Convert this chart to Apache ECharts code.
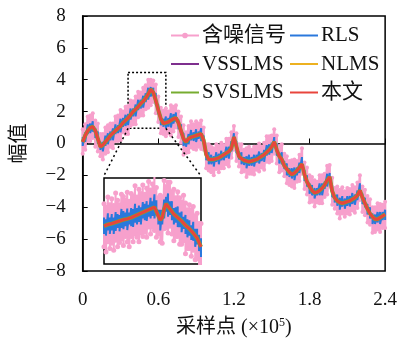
<!DOCTYPE html>
<html><head><meta charset="utf-8">
<script src="https://cdn.jsdelivr.net/npm/echarts@6/dist/echarts.min.js"></script>
<style>html,body{margin:0;padding:0;background:#fff}#c{width:400px;height:343px}</style>
</head><body><div id="c"></div>
<script>
// ---- data ----
const xStep = 0.02; // sample spacing (×10^5)
const xTicks = [0, 0.6, 1.2, 1.8, 2.4];
const yTicks = [-8, -6, -4, -2, 0, 2, 4, 6, 8];
const seriesNames = ['含噪信号', 'RLS', 'VSSLMS', 'NLMS', 'SVSLMS', '本文'];
// clean / filtered signal (本文)
const signal = [0.1,0.5,0.8,1.0,1.05,0.8,0.3,-0.2,-0.1,0.1,
0.3,0.5,0.65,0.8,0.95,1.1,1.3,1.45,1.6,1.8,
2.0,2.15,2.3,2.5,2.65,2.85,3.1,3.4,3.2,2.7,
2.1,1.55,1.25,1.3,1.35,1.45,1.55,1.6,1.3,0.8,
0.3,0.1,0.3,0.4,0.45,0.5,0.55,0.6,0.2,-0.7,
-1.0,-1.0,-1.0,-0.95,-0.9,-0.8,-0.7,-0.6,-0.5,-0.3,
0.4,-0.2,-0.8,-0.95,-1.05,-1.1,-1.15,-1.1,-1.05,-1.0,
-0.9,-0.8,-0.7,-0.55,-0.4,-0.2,0.1,-0.4,-0.8,-1.0,
-1.4,-1.6,-1.8,-1.95,-1.85,-1.7,-1.5,-1.3,-1.95,-2.4,
-2.7,-2.95,-3.1,-3.05,-2.95,-2.8,-2.6,-2.3,-2.1,-3.0,
-3.4,-3.6,-3.7,-3.75,-3.7,-3.65,-3.6,-3.5,-3.4,-3.25,
-2.95,-3.4,-3.75,-4.1,-4.4,-4.6,-4.75,-4.75,-4.65,-4.55,
-4.45];
// noisy signal spread above / below the clean signal
const noiseUp = [0.8,0.7,0.9,0.75,0.85,0.65,0.95,0.8,0.7,0.9,
0.85,0.75,0.6,0.9,0.8,1.0,0.7,0.85,0.75,0.9,
0.65,0.8,0.95,0.7,0.85,0.8,0.9,0.6,0.75,1.0,
0.85,0.7,0.8,0.9,0.65,0.95,0.75,0.8,0.7,0.9,
0.85,0.6,0.8,1.0,0.75,0.9,0.7,0.85,0.8,0.65,
0.95,0.8,0.7,0.9,0.75,0.85,0.6,0.9,0.8,1.0,
0.7,0.85,0.75,0.9,0.65,0.8,0.95,0.7,0.85,0.8,
0.9,0.6,0.75,1.0,0.85,0.7,0.8,0.9,0.65,0.95,
0.75,0.8,0.7,0.9,0.85,0.6,0.8,1.0,0.75,0.9,
0.7,0.85,0.8,0.65,0.95,0.8,0.7,0.9,0.75,0.85,
0.6,0.9,0.8,1.0,0.7,0.85,0.75,0.9,0.65,0.8,
0.95,0.7,0.85,0.8,0.9,0.6,0.75,1.0,0.85,0.7,
0.8];
const noiseDn = [-0.75,-0.9,-0.65,-0.85,-0.7,-1.0,-0.8,-0.6,-0.9,-0.75,
-0.85,-0.7,-0.95,-0.65,-0.8,-0.9,-0.6,-0.85,-1.0,-0.7,
-0.8,-0.95,-0.65,-0.75,-0.9,-0.7,-0.85,-1.0,-0.6,-0.8,
-0.75,-0.9,-0.65,-0.85,-0.7,-0.95,-0.8,-0.6,-0.9,-0.75,
-1.0,-0.7,-0.85,-0.65,-0.8,-0.9,-0.75,-0.95,-0.6,-0.85,
-0.7,-0.8,-1.0,-0.65,-0.9,-0.75,-0.85,-0.7,-0.95,-0.6,
-0.8,-0.9,-0.65,-0.85,-0.7,-1.0,-0.75,-0.8,-0.9,-0.65,
-0.85,-0.7,-0.95,-0.6,-0.8,-0.9,-0.75,-0.85,-1.0,-0.7,
-0.65,-0.9,-0.8,-0.75,-0.95,-0.7,-0.85,-0.6,-0.9,-0.8,
-1.0,-0.7,-0.85,-0.65,-0.8,-0.95,-0.75,-0.9,-0.6,-0.85,
-0.7,-0.8,-1.0,-0.65,-0.9,-0.75,-0.85,-0.7,-0.95,-0.8,
-0.6,-0.9,-0.75,-0.85,-0.7,-1.0,-0.8,-0.65,-0.9,-0.75,
-0.85];
// RLS output spread around the clean signal
const rlsUp = [0.3,0.2,0.4,0.25,0.35,0.15,0.45,0.3,0.2,0.4,
0.35,0.25,0.3,0.4,0.2,0.45,0.3,0.35,0.25,0.4,
0.2,0.3,0.45,0.25,0.35,0.3,0.4,0.15,0.3,0.45,
0.35,0.2,0.3,0.4,0.25,0.45,0.3,0.35,0.2,0.4,
0.35,0.15,0.3,0.45,0.25,0.4,0.2,0.35,0.3,0.25,
0.45,0.3,0.2,0.4,0.25,0.35,0.15,0.4,0.3,0.45,
0.25,0.35,0.3,0.4,0.2,0.3,0.45,0.25,0.35,0.3,
0.4,0.2,0.3,0.45,0.35,0.25,0.3,0.4,0.2,0.45,
0.3,0.35,0.25,0.4,0.35,0.2,0.3,0.45,0.25,0.4,
0.2,0.35,0.3,0.25,0.45,0.3,0.2,0.4,0.25,0.35,
0.15,0.4,0.3,0.45,0.25,0.35,0.3,0.4,0.2,0.3,
0.45,0.25,0.35,0.3,0.4,0.2,0.3,0.45,0.35,0.25,
0.3];
const rlsDn = [-0.25,-0.4,-0.2,-0.35,-0.3,-0.45,-0.3,-0.2,-0.4,-0.25,
-0.35,-0.3,-0.45,-0.2,-0.3,-0.4,-0.25,-0.35,-0.45,-0.3,
-0.3,-0.45,-0.2,-0.3,-0.4,-0.25,-0.35,-0.45,-0.2,-0.3,
-0.25,-0.4,-0.2,-0.35,-0.3,-0.45,-0.3,-0.2,-0.4,-0.25,
-0.45,-0.3,-0.35,-0.2,-0.3,-0.4,-0.25,-0.45,-0.2,-0.35,
-0.3,-0.3,-0.45,-0.2,-0.4,-0.25,-0.35,-0.3,-0.45,-0.2,
-0.3,-0.4,-0.2,-0.35,-0.3,-0.45,-0.25,-0.3,-0.4,-0.2,
-0.35,-0.3,-0.45,-0.2,-0.3,-0.4,-0.25,-0.35,-0.45,-0.3,
-0.2,-0.4,-0.3,-0.25,-0.45,-0.3,-0.35,-0.2,-0.4,-0.3,
-0.45,-0.3,-0.35,-0.2,-0.3,-0.45,-0.25,-0.4,-0.2,-0.35,
-0.3,-0.3,-0.45,-0.2,-0.4,-0.25,-0.35,-0.3,-0.45,-0.3,
-0.2,-0.4,-0.25,-0.35,-0.3,-0.45,-0.3,-0.2,-0.4,-0.25,
-0.35];
// zoom box (main-axis data coordinates) and inset box corners
const zoomBox = {x0: 0.36, x1: 0.66, y0: 0.95, y1: 4.45};
const insetTop = {x0: 0.169, x1: 0.937, y: -2.02};
// inset (magnified) data, inset axis 0..100 × 0..10
const insetStep = 2;
const insetSignal = [4.4,4.5,4.6,4.6,4.7,4.8,4.85,4.9,5.0,5.1,
5.15,5.2,5.25,5.3,5.4,5.5,5.6,5.7,5.8,5.9,
6.0,6.1,6.2,6.3,6.4,6.5,6.6,6.4,5.6,5.1,
5.4,6.4,7.0,6.8,6.4,6.1,5.8,5.6,5.4,5.2,
5.0,4.8,4.5,4.3,4.1,3.9,3.6,3.3,3.0,2.5,
2.0];
const insetNoiseUp = [2.6,2.1,3.2,2.3,2.9,2.0,3.4,2.5,1.9,3.0,
2.7,2.2,3.1,2.0,2.8,2.4,3.5,2.1,2.9,2.3,
3.2,2.0,2.6,3.3,2.2,2.8,3.6,2.5,2.1,2.9,
2.4,3.3,2.0,2.7,3.1,2.3,2.9,2.1,3.0,2.5,
2.2,3.2,2.6,2.0,2.8,2.4,3.1,2.3,2.9,2.2,
2.7];
const insetNoiseDn = [-2.4,-3.1,-2.0,-2.8,-2.3,-3.2,-2.1,-2.9,-2.5,-2.2,
-3.0,-2.0,-2.7,-3.3,-2.2,-2.9,-2.1,-2.6,-3.2,-2.3,
-2.8,-2.4,-3.1,-2.0,-2.9,-2.2,-2.7,-3.3,-2.1,-2.5,
-3.0,-2.3,-2.8,-3.2,-2.0,-2.6,-3.1,-2.4,-2.2,-2.9,
-2.7,-2.1,-3.3,-2.5,-2.3,-3.0,-2.0,-2.8,-2.4,-3.1,
-2.6];
const insetRlsUp = [1.0,0.7,1.3,0.8,1.1,0.6,1.2,0.9,0.7,1.3,
1.0,0.8,1.2,0.7,1.1,0.9,1.4,0.8,1.0,0.7,
1.2,0.9,1.1,0.6,1.3,0.8,1.5,1.0,0.7,1.2,
0.9,1.1,0.8,1.4,0.9,1.2,0.7,1.0,1.3,0.8,
1.1,0.7,1.2,0.9,1.0,0.6,1.3,0.8,1.1,0.9,
1.0];
const insetRlsDn = [-0.9,-1.2,-0.7,-1.1,-0.8,-1.3,-1.0,-0.7,-1.2,-0.9,
-1.1,-0.8,-1.3,-0.7,-1.0,-1.2,-0.8,-1.1,-0.9,-1.3,
-0.7,-1.0,-1.2,-0.8,-1.1,-0.9,-1.3,-0.7,-1.0,-1.2,
-0.8,-1.1,-0.9,-1.3,-0.7,-1.0,-1.2,-0.8,-1.1,-0.9,
-1.3,-0.7,-1.0,-1.2,-0.8,-1.1,-0.9,-1.3,-0.7,-1.0,
-1.2];

// ---- build ----
const C = {pink:'#f7a0cc', blue:'#2a78dc', purple:'#7e2f8e', orange:'#edb120', green:'#77ac30', red:'#e8453c'};
const xs = signal.map((_, i) => +(i * xStep).toFixed(4));
const zig = (x, base, up, dn) => { const out=[]; for (let i=0;i<base.length;i++){ out.push([x[i], base[i]+up[i]]); out.push([x[i], base[i]+dn[i]]);} return out; };
const pair = (x, v) => v.map((y, i) => [x[i], y]);
const pinkData = zig(xs, signal, noiseUp, noiseDn);
const rlsData = zig(xs, signal, rlsUp, rlsDn);
const cleanData = pair(xs, signal);
const ixs = insetSignal.map((_, i) => i * insetStep);
const iPink = zig(ixs, insetSignal, insetNoiseUp, insetNoiseDn);
const iRls = zig(ixs, insetSignal, insetRlsUp, insetRlsDn);
const iClean = pair(ixs, insetSignal);

const FONT = "'Liberation Serif', 'DejaVu Serif', 'Noto Sans CJK SC', serif";
const fmt = v => String(Math.round(v * 10) / 10).replace('-', '\u2212');
const chart = echarts.init(document.getElementById('c'), null, {renderer: 'canvas'});
const lineS = (name, data, color, width, z, extra) => Object.assign({
  name, type: 'line', data, symbol: 'none', animation: false, z,
  lineStyle: {color, width}, itemStyle: {color}, xAxisIndex: 0, yAxisIndex: 0
}, extra || {});
const LINE_ICON = 'path://M0,0H28V2H0Z';
const legendBase = {orient: 'vertical', top: 25, padding: 0, itemWidth: 28, itemHeight: 7, itemGap: 7.5, symbolKeepAspect: true,
  textStyle: {fontFamily: FONT, fontSize: 21, color: '#111', lineHeight: 20, padding: [0,0,0,-2]}};

chart.setOption({
  backgroundColor: '#fff',
  animation: false,
  grid: [
    {left: 82.7, right: 14.3, top: 16, bottom: 68.7, show: true, borderColor: '#000', borderWidth: 1.5, z: 0},
    {left: 104, top: 178, width: 97, height: 86, show: true, borderColor: '#000', borderWidth: 1.5, backgroundColor: '#fff', z: 5}
  ],
  legend: [
    Object.assign({}, legendBase, {left: 170, data: [{name: seriesNames[0]}, {name: seriesNames[2], icon: LINE_ICON}, {name: seriesNames[4], icon: LINE_ICON}]}),
    Object.assign({}, legendBase, {left: 290, data: [{name: seriesNames[1], icon: LINE_ICON}, {name: seriesNames[3], icon: LINE_ICON}, {name: seriesNames[5], icon: LINE_ICON}]})
  ],
  xAxis: [
    {type: 'value', gridIndex: 0, min: xTicks[0], max: xTicks[xTicks.length-1], interval: 0.6,
     axisLine: {show: true, lineStyle: {color: '#000', width: 1.5}},
     axisTick: {show: true, inside: true, length: 5, lineStyle: {color: '#000'}},
     splitLine: {show: false},
     axisLabel: {formatter: fmt, fontFamily: FONT, fontSize: 19, color: '#111', margin: 20},
     name: '{a|采样点 (×10}{s|5}{a|)}', nameLocation: 'middle', nameGap: 46,
     nameTextStyle: {rich: {a: {fontFamily: FONT, fontSize: 20, color: '#111'}, s: {fontFamily: FONT, fontSize: 12, color: '#111', verticalAlign: 'top', padding: [0,0,10,0]}}}},
    {type: 'value', gridIndex: 1, min: 0, max: 100, show: false}
  ],
  yAxis: [
    {type: 'value', gridIndex: 0, min: yTicks[0], max: yTicks[yTicks.length-1], interval: 2,
     axisLine: {show: true, lineStyle: {color: '#000', width: 1.5}},
     axisTick: {show: true, inside: true, length: 5, lineStyle: {color: '#000'}},
     splitLine: {show: false},
     axisLabel: {formatter: fmt, fontFamily: FONT, fontSize: 19, color: '#111', margin: 17},
     name: '幅值', nameLocation: 'middle', nameGap: 53, nameRotate: 90,
     nameTextStyle: {fontFamily: FONT, fontSize: 20, color: '#111'}},
    {type: 'value', gridIndex: 1, min: 0, max: 10, show: false}
  ],
  series: [
    lineS(seriesNames[0], pinkData, C.pink, 2.5, 1, {symbol: 'circle', symbolSize: 4, showSymbol: true, itemStyle: {color: C.pink}}),
    lineS(seriesNames[1], rlsData, C.blue, 2, 2),
    lineS(seriesNames[2], cleanData, C.purple, 2, 3),
    lineS(seriesNames[3], cleanData, C.orange, 2, 3),
    lineS(seriesNames[4], cleanData, C.green, 4, 4),
    lineS(seriesNames[5], cleanData, C.red, 3, 5, {
      markArea: {silent: true, itemStyle: {color: 'rgba(0,0,0,0)', borderColor: '#000', borderWidth: 1.5, borderType: [2, 2]},
        data: [[{coord: [zoomBox.x0, zoomBox.y1]}, {coord: [zoomBox.x1, zoomBox.y0]}]]},
      markLine: {silent: true, symbol: 'none', label: {show: false}, lineStyle: {color: '#000', width: 1.5, type: [2, 3]},
        data: [[{coord: [zoomBox.x0, zoomBox.y0]}, {coord: [insetTop.x0, insetTop.y]}],
               [{coord: [zoomBox.x1, zoomBox.y0]}, {coord: [insetTop.x1, insetTop.y]}]]}
    }),
    {type: 'line', xAxisIndex: 1, yAxisIndex: 1, data: iPink, symbol: 'circle', symbolSize: 5, showSymbol: true, z: 6,
     lineStyle: {color: C.pink, width: 2}, itemStyle: {color: C.pink}, animation: false},
    {type: 'line', xAxisIndex: 1, yAxisIndex: 1, data: iRls, symbol: 'none', z: 7, lineStyle: {color: C.blue, width: 2}, animation: false},
    {type: 'line', xAxisIndex: 1, yAxisIndex: 1, data: iClean, symbol: 'none', z: 8, lineStyle: {color: C.green, width: 4}, animation: false},
    {type: 'line', xAxisIndex: 1, yAxisIndex: 1, data: iClean, symbol: 'none', z: 9, lineStyle: {color: C.red, width: 3}, animation: false}
  ]
});
</script></body></html>
